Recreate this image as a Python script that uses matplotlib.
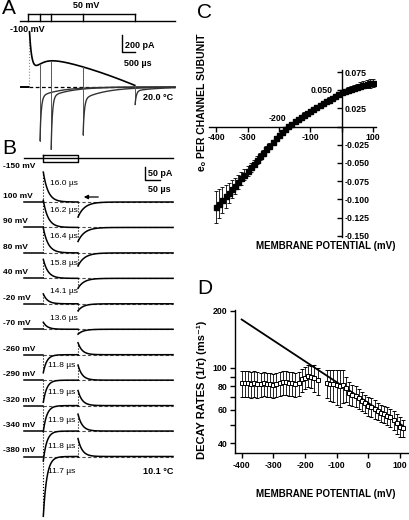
import matplotlib
matplotlib.use("Agg")
import matplotlib.pyplot as plt
import numpy as np

plt.rcParams['font.family'] = ['Liberation Sans', 'DejaVu Sans']
plt.rcParams['font.weight'] = 'bold'
plt.rcParams['axes.linewidth'] = 1.0

# ---------------- data ----------------
# A: gating currents, pulses to 50 mV from -100 mV (20.0 C)
a_pulse_end = [0.40, 0.83, 2.06, 4.06]      # ms
a_on_peak = 650.0                           # pA
a_on_tau = 0.10                             # ms
a_slow_amp = 360.0
a_slow_rise = 0.30
a_slow_stop = 4.2
a_off_fast = [-520.0, -620.0, -420.0, -160.0]
a_off_slow = [-110.0, -110.0, -140.0, -45.0]
a_off_tau = [0.05, 0.05, 0.05, 0.05]
a_off_tau_slow = [0.8, 0.8, 0.9, 0.9]

# B: gating currents at 10.1 C, holding -150 mV
b_labels = ['100 mV', '90 mV', '80 mV', '40 mV', '-20 mV', '-70 mV',
            '-260 mV', '-290 mV', '-320 mV', '-340 mV', '-380 mV']
b_tau = [16.0, 16.2, 16.4, 15.8, 14.1, 13.6, 11.8, 11.9, 11.9, 11.8, 11.7]   # us
b_on_amp = [115, 104, 96, 73, 38, 27, -69, -85, -100, -115, -230]          # pA
b_off_amp = [-58, -54, -50, -38, -27, -19, 46, 58, 58, 65, 69]              # pA
b_off_tau = [22, 22, 22, 20, 18, 18, 14, 14, 14, 14, 14]                    # us

# C: charge per channel subunit vs membrane potential
c_volt = np.arange(-400, 101, 10)
c_q = [-0.111, -0.106, -0.101, -0.096, -0.091, -0.086, -0.081, -0.076, -0.071, -0.066,
       -0.061, -0.056, -0.051, -0.046, -0.041, -0.036, -0.031, -0.026, -0.021, -0.016,
       -0.012, -0.0075, -0.0035, 0.0005, 0.004, 0.0075, 0.0105, 0.0135, 0.0165, 0.019,
       0.0215, 0.0242, 0.0268, 0.0294, 0.032, 0.0345, 0.037, 0.0395, 0.042, 0.0445,
       0.047, 0.0489, 0.0506, 0.052, 0.0535, 0.055, 0.0562, 0.0574, 0.0585, 0.0594, 0.060]
c_err = [0.022, 0.020, 0.018, 0.016, 0.014, 0.012, 0.011, 0.010, 0.009, 0.008,
         0.007, 0.006, 0.005, 0.005, 0.005, 0.004, 0.004, 0.004, 0.003, 0.003,
         0.003, 0.003, 0.003, 0.003, 0.003, 0.003, 0.003, 0.003, 0.003, 0.003,
         0.003, 0.003, 0.003, 0.003, 0.003, 0.003, 0.003, 0.003, 0.003, 0.003,
         0.003, 0.003, 0.004, 0.004, 0.004, 0.004, 0.005, 0.005, 0.005, 0.006, 0.006]

# D: decay rates vs membrane potential
d_volt = np.arange(-400, 111, 10)
d_rate = [83, 83, 83, 82, 83, 82, 82, 83, 82, 82,
          81, 82, 83, 84, 84, 83, 83, 82, 83, 87,
          89, 91, 90, 89, 86, np.nan, np.nan, 83, 82, 82,
          81, 80, 81, 78, 74, 72, 71, 69, 67, 65,
          63, 62, 61, 59, 58, 57, 56, 55, 53, 51, 49, 48]
d_err = [13, 13, 13, 13, 13, 13, 12, 12, 12, 12,
         12, 12, 12, 12, 12, 12, 12, 12, 12, 12,
         12, 12, 12, 14, 14, np.nan, np.nan, 14, 15, 16,
         17, 18, 16, 12, 10, 9, 9, 8, 8, 7,
         7, 7, 7, 6, 6, 6, 6, 6, 6, 6, 6, 5]
d_fit_volt = [-400, 110]
d_fit_rate = [180, 49.4]

# ---------------- layout helpers (pixel boxes) ----------------
W, H = 410.0, 520.0
fig = plt.figure(figsize=(W / 100, H / 100), dpi=100)


def box(x0, y0, x1, y1):
    return fig.add_axes([x0 / W, 1 - y1 / H, (x1 - x0) / W, (y1 - y0) / H])


def ptext(x, y, s, **kw):
    kw.setdefault('va', 'center')
    fig.text(x / W, 1 - y / H, s, **kw)


dash = (0, (3, 2))

# ---------------- panel A ----------------
A_T0, A_PXMS = 29.5, 26.0
A_BASE, A_PXPA = 87.0, 17.0 / 200
axA = box(15, 28, 180, 152)
axA.axis('off')
axA.set_xlim((15 - A_T0) / A_PXMS, (180 - A_T0) / A_PXMS)
axA.set_ylim((A_BASE - 152) / A_PXPA, (A_BASE - 28) / A_PXPA)
t_last = (175 - A_T0) / A_PXMS


def a_on(t):
    slow = a_slow_amp * (1 - np.exp(-t / a_slow_rise)) * (1 - (t / a_slow_stop) ** 1.5)
    return a_on_peak * np.exp(-t / a_on_tau) + slow


axA.plot([(21 - A_T0) / A_PXMS, 0], [0, 0], color='k', lw=1.4)
axA.plot([0, t_last], [0, 0], color='k', ls=dash, lw=0.9)
axA.plot([0, 0], [0, a_on_peak], color='0.55', ls=':', lw=0.8)
t_on = np.linspace(0, a_pulse_end[-1], 500)
axA.plot(t_on, a_on(t_on), color='k', lw=1.2)
for k, te in enumerate(a_pulse_end):
    i_te = a_on(te)
    if k < 3:
        axA.plot([te, te], [i_te, 0], color='0.6', ls=':', lw=0.8)
    dt = np.linspace(0, t_last - te, 600)
    off = a_off_fast[k] * np.exp(-dt / a_off_tau[k]) + a_off_slow[k] * np.exp(-dt / a_off_tau_slow[k])
    axA.plot([te, te], [i_te, off[0]], color='0.35', lw=0.7)
    axA.plot(te + dt, off, color='0.2', lw=1.0)

# scale bar A
sb_t = (121.7 - A_T0) / A_PXMS
sb_i = (A_BASE - 52) / A_PXPA
axA.plot([sb_t, sb_t, sb_t + 0.5], [sb_i + 200, sb_i, sb_i], color='k', lw=1.0)
ptext(125, 45, '200 pA', fontsize=6.5)
ptext(124, 63, '500 µs', fontsize=6.5)
ptext(143, 98, '20.0 °C', fontsize=6.5)

# protocol A
axAp = box(15, 5, 180, 27)
axAp.axis('off')
axAp.set_xlim(axA.get_xlim())
axAp.set_ylim(-100 - 6 * 150 / 7, 50 + 9 * 150 / 7)
axAp.plot([(20 - A_T0) / A_PXMS, (27 - A_T0) / A_PXMS], [-100, -100], color='k', lw=1.0)
axAp.plot([-0.04, t_last], [-100, -100], color='k', lw=1.0)
axAp.plot([-0.04, a_pulse_end[-1]], [50, 50], color='k', lw=1.0)
for te in [-0.04] + a_pulse_end:
    axAp.plot([te, te], [-100, 50], color='k', lw=1.0)
ptext(86, 6, '50 mV', fontsize=6.5, ha='center')
ptext(10, 29, '-100 mV', fontsize=6.5)

# ---------------- panel B ----------------
B_T0, B_PXUS = 43.3, 0.3
B_BASE0, B_SP, B_PXPA = 202.0, 25.45, 13.0 / 50
axB = box(20, 163, 180, 520)
axB.axis('off')
axB.set_xlim((20 - B_T0) / B_PXUS, (180 - B_T0) / B_PXUS)
axB.set_ylim((B_BASE0 - 520) / B_PXPA, (B_BASE0 - 163) / B_PXPA)
b_pulse = (78 - B_T0) / B_PXUS
t_start = (24 - B_T0) / B_PXUS
t_stop = (173 - B_T0) / B_PXUS
tau_dy = [-19, -17, -16, -15, -12, -11, 11, 12.6, 15, 15, 15]

for i in range(len(b_labels)):
    base = -i * B_SP / B_PXPA
    axB.plot([t_start, 0], [base, base], color='k', lw=1.1)
    axB.plot([0, t_stop], [base, base], color='0.3', ls=dash, lw=0.8)
    axB.plot([0, 0], [base, base + b_on_amp[i]], color='k', ls=':', lw=0.8)
    t1 = np.linspace(0, b_pulse, 300)
    on = b_on_amp[i] * np.exp(-t1 / b_tau[i])
    axB.plot(t1, base + on, color='k', lw=1.1)
    axB.plot([b_pulse, b_pulse], [base + on[-1], base + b_off_amp[i]], color='k', ls=':', lw=0.8)
    t2 = np.linspace(0, t_stop - b_pulse, 500)
    axB.plot(b_pulse + t2, base + b_off_amp[i] * np.exp(-t2 / b_off_tau[i]), color='k', lw=1.1)
    py = B_BASE0 + i * B_SP
    ptext(3, py - 5.5, b_labels[i], fontsize=6)
    ptext(50 if i < 6 else 48, py + tau_dy[i], '%.1f µs' % b_tau[i], fontsize=6,
          fontweight='normal')

# scale bar B
sb_t = (145 - B_T0) / B_PXUS
sb_i = (B_BASE0 - 180) / B_PXPA
axB.plot([sb_t, sb_t, sb_t + 50], [sb_i + 50, sb_i, sb_i], color='k', lw=1.0)
ptext(148, 174, '50 pA', fontsize=6.5)
ptext(148, 190, '50 µs', fontsize=6.5)
axB.annotate('', xy=((81 - B_T0) / B_PXUS, 5 / B_PXPA), xytext=((101 - B_T0) / B_PXUS, 5 / B_PXPA),
             arrowprops=dict(arrowstyle='-|>', color='k', lw=0.9, mutation_scale=6))
ptext(143, 472, '10.1 °C', fontsize=6.5)

# protocol B
axBp = box(20, 150, 180, 165)
axBp.axis('off')
axBp.set_xlim(axB.get_xlim())
axBp.set_ylim(-2.0, 8 / 3.5)
axBp.plot([t_start, t_stop], [0, 0], color='k', lw=1.0)
axBp.plot([0, b_pulse, b_pulse, 0, 0], [1, 1, -1, -1, 1], color='k', lw=1.0)
ptext(3, 167, '-150 mV', fontsize=6)

# ---------------- panel C ----------------
axC = box(209, 70, 376, 236.8)
axC.errorbar(c_volt, c_q, yerr=c_err, fmt='s', color='k', ms=3.6, elinewidth=0.6,
             capsize=1.5, capthick=0.6)
axC.set_xlim(-423, 110)
axC.set_ylim(-0.1515, 0.0778)
axC.spines['left'].set_visible(False)
axC.spines['top'].set_visible(False)
axC.spines['right'].set_position(('data', 0))
axC.spines['bottom'].set_position(('data', 0))
axC.yaxis.tick_right()
axC.set_yticks([-0.15, -0.125, -0.1, -0.075, -0.05, -0.025, 0, 0.025, 0.05, 0.075])
axC.set_yticklabels(['-0.150', '-0.125', '-0.100', '-0.075', '-0.050', '-0.025', '',
                     '0.025', '', '0.075'])
axC.tick_params(axis='y', direction='in', length=3.5, width=1, pad=2, labelsize=6.3)
axC.set_xticks([-400, -300, -200, -100, 0, 100])
axC.set_xticklabels(['-400', '-300', '', '-100', '', '100'])
axC.tick_params(axis='x', direction='out', length=3.5, width=1, pad=1, labelsize=6.3)
axC.text(-30, 0.05, '0.050', fontsize=6.3, ha='right', va='center')
axC.text(-205, 0.0115, '-200', fontsize=6.3, ha='center', va='center')
ptext(326, 246, 'MEMBRANE POTENTIAL (mV)', fontsize=7, ha='center')
ptext(202, 102, 'eₒ PER CHANNEL SUBUNIT', fontsize=7.5, ha='center', rotation=90)
ptext(197, 12, 'C', fontsize=15, fontweight='normal')

# ---------------- panel D ----------------
axD = box(235, 310, 409.5, 453)
axD.plot(d_fit_volt, d_fit_rate, color='k', lw=1.3, zorder=1)
axD.errorbar(d_volt, d_rate, yerr=d_err, fmt='s', mfc='white', mec='k', mew=0.7, ms=3.3,
             ecolor='k', elinewidth=0.6, capsize=1.5, capthick=0.6, zorder=2)
axD.set_yscale('log')
axD.set_xlim(-421, 130)
axD.set_ylim(35.6, 202)
axD.spines['top'].set_visible(False)
axD.spines['right'].set_visible(False)
axD.set_yticks([40, 50, 60, 70, 80, 90, 100, 200])
axD.set_yticklabels(['40', '', '60', '', '80', '', '100', '200'])
axD.yaxis.set_minor_locator(matplotlib.ticker.NullLocator())
axD.set_xticks([-400, -300, -200, -100, 0, 100])
axD.set_xticklabels(['-400', '-300', '-200', '-100', '0', '100'])
axD.tick_params(direction='out', length=3.5, width=1, pad=2, labelsize=6.3)
ptext(326, 494, 'MEMBRANE POTENTIAL (mV)', fontsize=7, ha='center')
ptext(202, 390, 'DECAY RATES (1/τ) (ms⁻¹)', fontsize=8, ha='center', rotation=90)
ptext(197, 289, 'D', fontsize=15, fontweight='normal')

ptext(2, 9, 'A', fontsize=15, fontweight='normal')
ptext(2, 149, 'B', fontsize=15, fontweight='normal')

fig.savefig('out.png', dpi=100)
